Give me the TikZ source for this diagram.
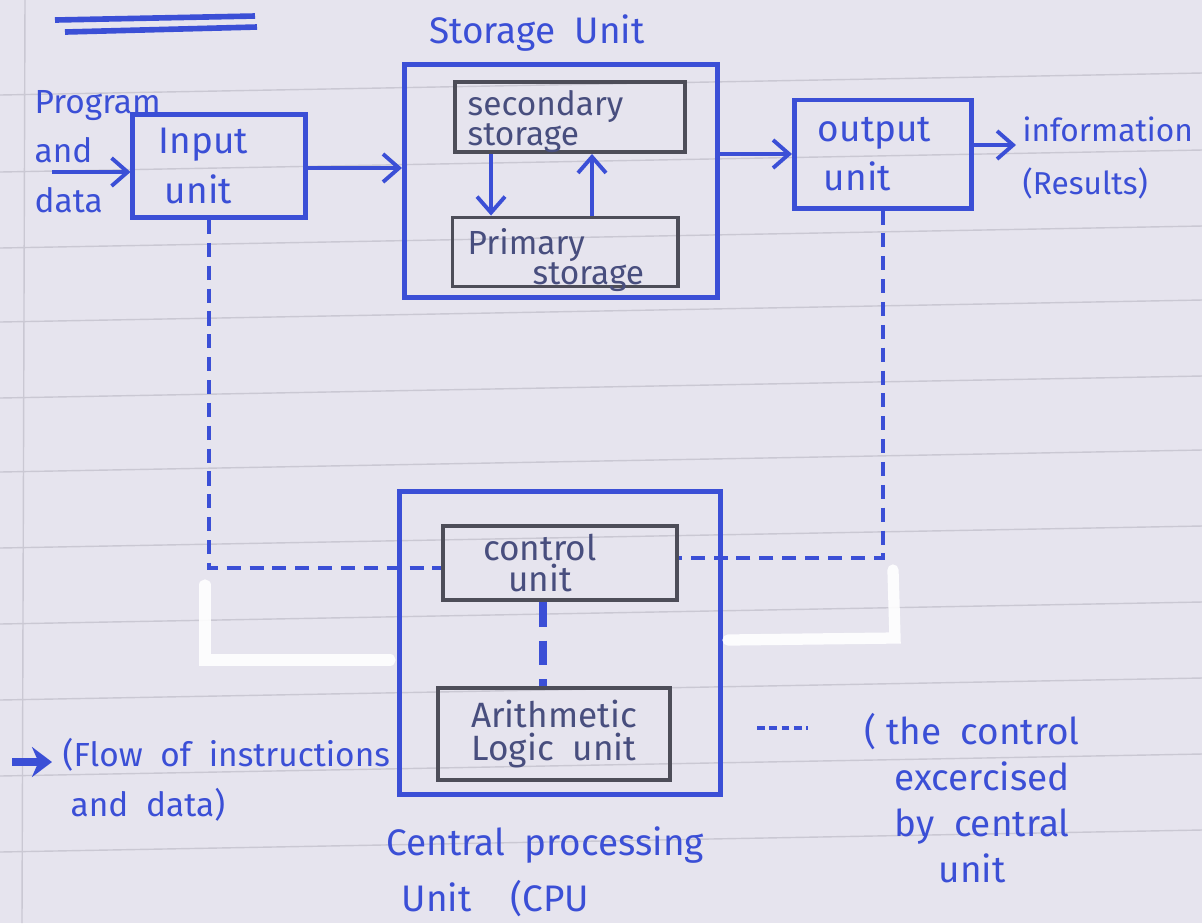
\documentclass[tikz,border=0pt]{standalone}
\usepackage{fontspec}
\setmainfont{Fira Sans}
\usetikzlibrary{arrows.meta, positioning, backgrounds}
\definecolor{inkBlue}{HTML}{3B4FD6}
\definecolor{pencilGray}{HTML}{4D4D58}
\definecolor{paperLav}{HTML}{E6E4EE}
\definecolor{ruleGray}{HTML}{CAC8D3}

\begin{document}
\begin{tikzpicture}[x=0.01cm, y=-0.01cm, font=\normalsize, text=inkBlue,
  unitbox/.style={draw=inkBlue, line width=1.4pt, align=left, font=\fontsize{10.5}{14}\selectfont},
  partbox/.style={draw=pencilGray, line width=1.1pt, text=pencilGray!70!inkBlue},
  parttext/.style={text=pencilGray!70!inkBlue, align=left, anchor=north west, inner sep=0pt,
    font=\fontsize{9.5}{8.5}\selectfont},
  flow/.style={draw=inkBlue, line width=1.1pt, -{Straight Barb[length=1.6mm, width=2.8mm]}},
  ctrlline/.style={draw=inkBlue, line width=0.9pt, dash pattern=on 4pt off 2.5pt},
  whiteout/.style={draw=white, line width=3.2pt, opacity=0.9, line cap=round}]
  \useasboundingbox (0,0) rectangle (1202,923);
  % paper
  \fill[paperLav] (0,0) rectangle (1202,923);
  \foreach \y in {95,172,248,322,398,472,548,624,700,776,852} {
    \draw[ruleGray, line width=0.4pt] (0,\y) -- (1202,\y-22);
  }
  \draw[ruleGray, line width=0.4pt] (25,0) -- (22,923);
  % heading underline
  \draw[inkBlue, line width=1.6pt] (55,20) -- (255,16);
  \draw[inkBlue, line width=1.6pt] (65,32) -- (257,27);

  % storage unit
  \node[unitbox, minimum width=3.13cm, minimum height=2.33cm] (stor) at (561,181) {};
  \node[font=\fontsize{10.5}{12}\selectfont] (stortitle) at (537,33) {Storage\ \ Unit};
  \node[partbox, minimum width=2.3cm, minimum height=0.7cm] (sec) at (570,117) {};
  \node[parttext] (sectext) at (467,90) {secondary\\storage};
  \node[partbox, minimum width=2.25cm, minimum height=0.69cm] (prim) at (565,252) {};
  \node[parttext] (primtext) at (467,228) {Primary\\\hspace{0.65cm}storage};

  % input and output
  \node[unitbox, minimum width=1.72cm, minimum height=1.03cm, text width=1.2cm] (inp) at (219,166) {Input\\\hspace{0.06cm}unit};
  \node[unitbox, minimum width=1.77cm, minimum height=1.08cm, text width=1.3cm] (out) at (883,154) {output\\\hspace{0.06cm}unit};
  \node[align=left, anchor=north west, inner sep=0pt, font=\fontsize{9.5}{14}\selectfont]
        (pgm) at (34,90) {Program\\and\\data};
  \coordinate (pin) at (52,172);
  \coordinate (info) at (1016,145);
  \node[anchor=west, inner sep=0pt, align=left, font=\fontsize{9}{15}\selectfont]
        (res) at (1022,158) {information\\(Results)};

  % cpu
  \node[unitbox, minimum width=3.2cm, minimum height=3.03cm] (cpu) at (560,643) {};
  \node[partbox, minimum width=2.34cm, minimum height=0.74cm] (cu) at (560,563) {};
  \node[parttext, anchor=center, align=center, font=\fontsize{10}{8.8}\selectfont]
        (cutext) at (540,563) {control\\unit};
  \node[partbox, minimum width=2.32cm, minimum height=0.78cm, align=center,
        font=\fontsize{10}{9.5}\selectfont] (alu) at (554,734) {Arithmetic\\Logic\ \ unit};
  \node[align=left, anchor=north west, inner sep=0pt, font=\fontsize{10.5}{16}\selectfont]
        (cputitle) at (386,826) {Central\ \ processing\\\hspace{0.15cm}Unit\ \ \ \ (CPU};

  % flows
  \draw[flow] (pin) -- (pin -| inp.west);
  \draw[flow] (inp.east |- 0,168) -- (stor.west |- 0,168);
  \draw[flow] (stor.east |- out.west) -- (out.west);
  \draw[flow] (info -| out.east) -- (info);
  \draw[flow] ([xshift=0.38cm]sec.south west) -- ([xshift=0.38cm]sec.south west |- prim.north);
  \draw[flow] ([xshift=0.27cm]prim.north) -- ([xshift=0.27cm]prim.north |- sec.south);

  % control lines
  \draw[ctrlline] ([xshift=-0.1cm]inp.south) |- ([yshift=-0.05cm]cu.west);
  \draw[ctrlline] (out.south) |- ([yshift=0.05cm]cu.east);
  \draw[ctrlline, line width=2pt, dash pattern=on 7pt off 4pt]
        ([xshift=-0.17cm]cu.south) -- ([xshift=-0.17cm]cu.south |- alu.north);

  % correction fluid marks
  \draw[whiteout] (205,585) -- (205,660) -- (390,660);
  \draw[whiteout] (893,570) -- (895,638) -- (728,640);

  % legend
  \coordinate (lgA) at (12,762);
  \coordinate (lgB) at (52,762);
  \draw[flow, line width=2.2pt, -{Stealth[length=2mm, width=3mm]}] (lgA) -- (lgB);
  \node[anchor=north west, inner sep=0pt, align=left, font=\fontsize{9.5}{14}\selectfont]
        (lgflow) at (62,738) {(Flow\ \ of\ \ instructions\\\hspace{0.08cm}and\ \ data)};
  \coordinate (lgC) at (757,728);
  \coordinate (lgD) at (808,728);
  \draw[ctrlline, dash pattern=on 2.2pt off 1.3pt] (lgC) -- (lgD);
  \node[anchor=north, inner sep=0pt, align=center, font=\fontsize{10.5}{13}\selectfont]
        (lgctrl) at (972,713) {(\ the\ \ control\\\hspace{0.2cm}excercised\\\hspace{0.2cm}by\ \ central\\unit};
\end{tikzpicture}
\end{document}
